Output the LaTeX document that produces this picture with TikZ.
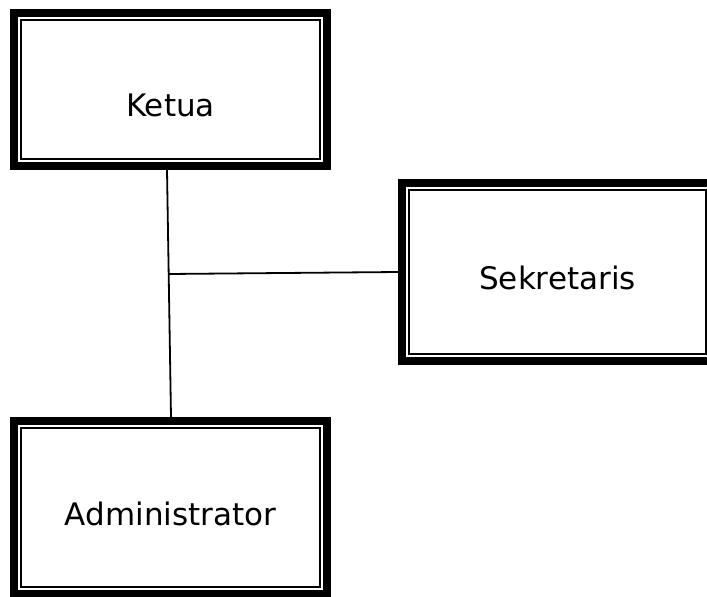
\documentclass[tikz,border=0pt]{standalone}
\usepackage{fontspec}
\setsansfont{DejaVu Sans}
\usetikzlibrary{calc}

\begin{document}
\begin{tikzpicture}[x=1pt, y=-1pt,
        kotak/.style={draw, line width=8pt, minimum width=313pt, inner sep=0pt},
        teks/.style={font=\sffamily\fontsize{31}{36}\selectfont},
        garis/.style={line width=1.8pt}]
        \useasboundingbox (0,0) rectangle (707,597);
        \clip (0,0) rectangle (707,597);

        \node (ketua) [kotak, minimum height=153pt] at (170.5,89.5) {};
        \node (sekretaris) [kotak, minimum width=311pt, minimum height=178pt] at (557.5,272) {};
        \node (admin) [kotak, minimum height=173pt] at (170.5,507.5) {};

        % garis tipis di dalam bingkai tebal
        \foreach \n in {ketua,sekretaris,admin}
            \draw [line width=2.4pt] ($(\n.north west) + (11pt,-11pt)$)
                rectangle ($(\n.south east) + (-11pt,11pt)$);

        \node (ketua-teks) [teks, yshift=-16pt] at (ketua.center) {Ketua};
        \node (sekretaris-teks) [teks, yshift=-5.5pt] at (sekretaris.center) {Sekretaris};
        \node (admin-teks) [teks, yshift=-6.5pt] at (admin.center) {Administrator};

        \coordinate (cabang) at (168,274);
        \draw [garis] ([xshift=-3.5pt]ketua.south) -- ([xshift=0.5pt]admin.north);
        \draw [garis] (cabang) -- (sekretaris.west);
    \end{tikzpicture}
\end{document}
